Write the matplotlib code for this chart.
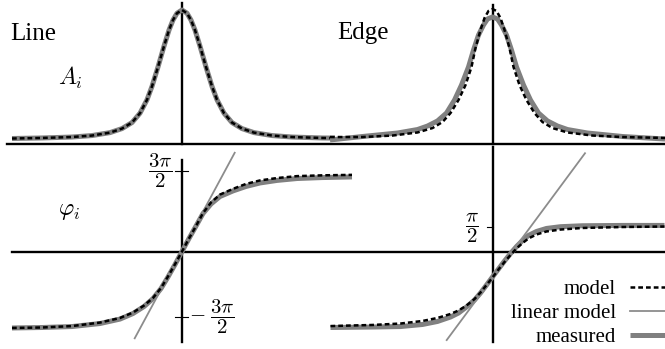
import matplotlib
matplotlib.use("Agg")
import matplotlib.pyplot as plt
from matplotlib.lines import Line2D

plt.rcParams['font.family'] = 'serif'
plt.rcParams['font.serif'] = ['Liberation Serif', 'DejaVu Serif']
plt.rcParams['mathtext.fontset'] = 'cm'

# detuning in arbitrary units, amplitude normalised to the Line peak
line_x = [-17.0, -14.0, -11.0, -9.0, -7.2, -6.0, -5.0, -4.2, -3.5, -3.0, -2.4, -1.8, -1.3, -0.9, -0.5, 0.0,
          0.5, 0.9, 1.3, 1.8, 2.4, 3.0, 3.5, 4.2, 5.0, 6.0, 7.2, 9.0, 11.0, 14.0, 15.3]
line_amp_meas = [0.041, 0.045, 0.052, 0.063, 0.085, 0.115, 0.16, 0.23, 0.33, 0.43, 0.575, 0.73, 0.85, 0.925, 0.976, 1.0,
                 0.976, 0.925, 0.85, 0.73, 0.575, 0.43, 0.33, 0.23, 0.16, 0.115, 0.085, 0.063, 0.052, 0.045, 0.044]
line_amp_model = [0.041, 0.045, 0.052, 0.063, 0.085, 0.115, 0.16, 0.23, 0.33, 0.43, 0.575, 0.73, 0.85, 0.925, 0.976, 1.0,
                  0.976, 0.925, 0.85, 0.73, 0.575, 0.43, 0.33, 0.23, 0.16, 0.115, 0.085, 0.063, 0.052, 0.045, 0.044]

edge_x_meas = [-16.25, -13.0, -9.5, -7.5, -6.5, -5.5, -4.6, -3.8, -3.1, -2.4, -1.9, -1.4, -0.9, -0.5, 0.0,
               0.5, 0.9, 1.4, 1.9, 2.4, 3.1, 3.8, 4.6, 5.5, 6.5, 7.5, 9.5, 13.0, 17.25]
edge_amp_meas = [0.03, 0.056, 0.082, 0.108, 0.134, 0.172, 0.231, 0.328, 0.44, 0.575, 0.701, 0.813, 0.888, 0.933, 0.948,
                 0.933, 0.888, 0.813, 0.701, 0.575, 0.44, 0.328, 0.231, 0.172, 0.134, 0.108, 0.082, 0.056, 0.037]
edge_x_model = [-16.25, -13.0, -10.0, -7.5, -6.0, -5.0, -4.2, -3.4, -2.7, -2.1, -1.7, -1.2, -0.8, -0.4, 0.0,
                0.4, 0.8, 1.2, 1.7, 2.1, 2.7, 3.4, 4.2, 5.0, 6.0, 7.5, 10.0, 13.0, 17.25]
edge_amp_model = [0.052, 0.052, 0.063, 0.086, 0.119, 0.164, 0.231, 0.328, 0.44, 0.575, 0.716, 0.851, 0.94, 0.993, 1.007,
                  0.993, 0.94, 0.851, 0.716, 0.575, 0.44, 0.328, 0.231, 0.164, 0.119, 0.086, 0.063, 0.052, 0.045]

# phase in radians
line_x_ph = [-17.0, -14.0, -11.0, -8.2, -6.2, -4.9, -3.8, -2.9, -2.1, -1.4, -0.7, 0.0,
             0.7, 1.4, 2.1, 2.9, 3.8, 5.1, 6.4, 7.8, 9.5, 11.5, 14.0, 17.0]
line_ph_meas = [-4.81, -4.78, -4.72, -4.53, -4.25, -3.90, -3.46, -2.96, -2.33, -1.60, -0.82, 0.0,
                0.82, 1.60, 2.39, 2.99, 3.46, 3.81, 4.09, 4.31, 4.47, 4.59, 4.65, 4.69]
line_ph_model = [-4.81, -4.78, -4.69, -4.47, -4.18, -3.84, -3.40, -2.92, -2.30, -1.57, -0.80, 0.0,
                 0.82, 1.60, 2.42, 3.08, 3.58, 3.94, 4.25, 4.47, 4.62, 4.74, 4.79, 4.82]
line_lin_x = [-4.73, 5.27]
line_lin_ph = [-5.46, 6.21]

edge_x_ph = [-16.2, -12.0, -9.2, -7.0, -5.5, -4.2, -3.4, -2.6, -1.8, -1.2, -0.6, 0.0,
             0.6, 1.2, 1.8, 2.4, 3.0, 3.6, 4.4, 5.4, 6.8, 9.0, 13.0, 17.2]
edge_ph_meas = [-4.78, -4.75, -4.72, -4.59, -4.40, -4.12, -3.87, -3.49, -3.05, -2.61, -2.11, -1.60,
                -1.10, -0.60, -0.13, 0.31, 0.69, 1.01, 1.26, 1.45, 1.56, 1.62, 1.64, 1.64]
edge_ph_model = [-4.69, -4.62, -4.53, -4.37, -4.18, -3.93, -3.71, -3.40, -2.99, -2.58, -2.11, -1.64,
                 -1.13, -0.66, -0.22, 0.19, 0.53, 0.82, 1.07, 1.26, 1.38, 1.48, 1.54, 1.57]
edge_lin_x = [-4.58, 9.25]
edge_lin_ph = [-5.57, 6.18]

line_ticks = [5.08, -4.12]
line_tick_labels = [r'$\dfrac{3\pi}{2}$', r'$-\;\dfrac{3\pi}{2}$']
edge_ticks = [1.52]
edge_tick_labels = [r'$\dfrac{\pi}{2}$']

W, H = 665, 349
fig = plt.figure(figsize=(W / 100, H / 100), dpi=100)

meas_kw = dict(color='#808080', lw=3.6, solid_capstyle='butt', zorder=2)
model_kw = dict(color='black', lw=1.8, ls=(0, (1.9, 1.2)), zorder=4)
lin_kw = dict(color='#8c8c8c', lw=1.3, zorder=3)
axis_kw = dict(color='black', lw=1.7, zorder=1)


def panel(cx, cy, yscale):
    # full-figure axes whose origin sits at pixel (cx, cy)
    ax = fig.add_axes([0, 0, 1, 1])
    ax.set_xlim(-cx / 10, (W - cx) / 10)
    ax.set_ylim(-(H - cy) / yscale, cy / yscale)
    ax.axis('off')
    return ax


# amplitude, Line
ax = panel(182, 144, 134)
ax.axhline(0, xmin=7 / W, xmax=1, **axis_kw)
ax.axvline(0, ymin=(H - 144) / H, ymax=(H - 3) / H, **axis_kw)
ax.plot(line_x, line_amp_meas, **meas_kw)
ax.plot(line_x, line_amp_model, **model_kw)

# amplitude, Edge
ax = panel(492.5, 144, 134)
ax.axvline(0, ymin=(H - 144) / H, ymax=(H - 5) / H, **axis_kw)
ax.plot(edge_x_meas, edge_amp_meas, **meas_kw)
ax.plot(edge_x_model, edge_amp_model, **model_kw)

# phase, Line
ax = panel(182, 251.5, 15.9)
ax.axhline(0, xmin=12 / W, xmax=1, **axis_kw)
ax.axvline(0, ymin=(H - 342) / H, ymax=(H - 160) / H, **axis_kw)
ax.plot(line_lin_x, line_lin_ph, **lin_kw)
ax.plot(line_x_ph, line_ph_meas, **meas_kw)
ax.plot(line_x_ph, line_ph_model, **model_kw)
for t in line_ticks:
    ax.plot([-0.7, 0.6], [t, t], color='black', lw=0.8)
ax.text(-1.0, line_ticks[0], line_tick_labels[0], ha='right', va='center', fontsize=15)
ax.text(0.75, line_ticks[1], line_tick_labels[1], ha='left', va='center', fontsize=15)

# phase, Edge
ax = panel(492.5, 251.5, 15.9)
ax.axvline(0, ymin=(H - 342) / H, ymax=(H - 147) / H, **axis_kw)
ax.plot(edge_lin_x, edge_lin_ph, **lin_kw)
ax.plot(edge_x_ph, edge_ph_meas, **meas_kw)
ax.plot(edge_x_ph, edge_ph_model, **model_kw)
ax.plot([-0.6, 0], [edge_ticks[0], edge_ticks[0]], color='black', lw=0.8)
ax.text(-1.4, edge_ticks[0], edge_tick_labels[0], ha='right', va='center', fontsize=15)

fig.text(10 / W, 1 - 40 / H, 'Line', fontsize=18, va='baseline')
fig.text(337 / W, 1 - 39.5 / H, 'Edge', fontsize=18, va='baseline')
fig.text(58 / W, 1 - 85 / H, r'$A_i$', fontsize=17, va='baseline')
fig.text(58 / W, 1 - 215 / H, r'$\varphi_i$', fontsize=17, va='baseline')

handles = [Line2D([], [], **model_kw), Line2D([], [], **lin_kw), Line2D([], [], **meas_kw)]
fig.legend(handles, ['model', 'linear model', 'measured'], loc='lower right',
           bbox_to_anchor=(1.0, 2 / H), frameon=False, borderpad=0, borderaxespad=0,
           markerfirst=False, fontsize=15, handlelength=1.7, handletextpad=0.65, labelspacing=0.2)

fig.savefig('out.png', dpi=100)
